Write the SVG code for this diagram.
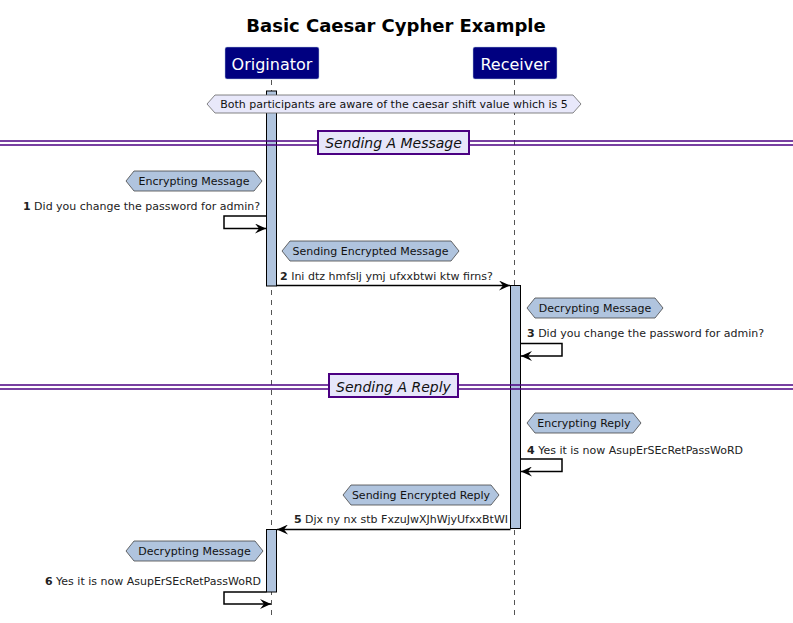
<svg xmlns="http://www.w3.org/2000/svg" width="793" height="623" viewBox="0 0 793 623">
<defs>
<style>
text{font-family:"DejaVu Sans","Liberation Sans",sans-serif;}
.title{font-size:18px;font-weight:bold;fill:#000;text-anchor:middle;}
.part rect{fill:#000080;stroke:#B0C4DE;stroke-width:0.5;}
.part text{fill:#fff;font-size:16px;text-anchor:middle;}
.life{stroke:#555;stroke-width:1;stroke-dasharray:5,5;fill:none;}
.act{fill:#B0C4DE;stroke:#000;stroke-width:1;}
.hex{fill:#B0C4DE;stroke:#444;stroke-width:0.8;}
.hex0{fill:#E8E8FA;stroke:#666;stroke-width:0.8;}
.nt{font-size:11px;fill:#111;text-anchor:middle;}
.msg{font-size:11px;fill:#222;}
.msg .n{font-weight:bold;}
.arr{stroke:#000;stroke-width:1.5;fill:none;marker-end:url(#ah);}
.dl{stroke:#4B0082;stroke-width:1.5;}
.db{fill:#E6E6FA;stroke:#4B0082;stroke-width:2;}
.dt{font-size:14px;font-style:italic;fill:#111;text-anchor:middle;}
</style>
<marker id="ah" viewBox="0 0 11 10" refX="11" refY="5" markerWidth="11" markerHeight="10" markerUnits="userSpaceOnUse" orient="auto">
<path d="M0,0 L11,5 L0,10 L4,5 Z" fill="#000"/>
</marker>
</defs>
<rect width="793" height="623" fill="#fff"/>
<text class="title" x="396" y="32">Basic Caesar Cypher Example</text>

<g id="lifelines">
<line class="life" x1="271.5" y1="80" x2="271.5" y2="616"/>
<line class="life" x1="514.5" y1="80" x2="514.5" y2="616"/>
</g>

<g id="originator" class="part">
<rect x="225" y="47" width="94" height="32" rx="2"/>
<text x="272" y="70">Originator</text>
</g>
<g id="receiver" class="part">
<rect x="473" y="47" width="84" height="32" rx="2"/>
<text x="515" y="70">Receiver</text>
</g>

<g id="activations">
<rect class="act" x="266.5" y="91" width="10" height="195"/>
<rect class="act" x="510.5" y="285.5" width="10" height="243"/>
<rect class="act" x="266.5" y="529.5" width="10" height="62.5"/>
</g>

<g id="note-shift">
<polygon class="hex0" points="215,95 573,95 581,104 573,113 215,113 207,104"/>
<text class="nt" x="394" y="108">Both participants are aware of the caesar shift value which is 5</text>
</g>

<g id="divider-message">
<line class="dl" x1="0" y1="141" x2="793" y2="141"/>
<line class="dl" x1="0" y1="145" x2="793" y2="145"/>
<rect class="db" x="318" y="131" width="151" height="23"/>
<text class="dt" x="393.5" y="148">Sending A Message</text>
</g>

<g id="note-encrypting-message">
<polygon class="hex" points="134,171 254,171 262,181 254,191 134,191 126,181"/>
<text class="nt" x="194" y="185">Encrypting Message</text>
</g>

<g id="note-sending-encrypted-message">
<polygon class="hex" points="290,241 451,241 459,251 451,261 290,261 282,251"/>
<text class="nt" x="370.5" y="255">Sending Encrypted Message</text>
</g>

<g id="note-decrypting-message-r">
<polygon class="hex" points="535,298 655,298 663,308 655,318 535,318 527,308"/>
<text class="nt" x="595" y="312">Decrypting Message</text>
</g>

<g id="divider-reply">
<line class="dl" x1="0" y1="385" x2="793" y2="385"/>
<line class="dl" x1="0" y1="389" x2="793" y2="389"/>
<rect class="db" x="329" y="374" width="129" height="23"/>
<text class="dt" x="393.5" y="392">Sending A Reply</text>
</g>

<g id="note-encrypting-reply">
<polygon class="hex" points="535,413 633,413 641,423 633,433 535,433 527,423"/>
<text class="nt" x="584" y="427">Encrypting Reply</text>
</g>

<g id="note-sending-encrypted-reply">
<polygon class="hex" points="351,485 491,485 499,495 491,505 351,505 343,495"/>
<text class="nt" x="421" y="499">Sending Encrypted Reply</text>
</g>

<g id="note-decrypting-message-o">
<polygon class="hex" points="134,541 255,541 263,551 255,561 134,561 126,551"/>
<text class="nt" x="194.5" y="555">Decrypting Message</text>
</g>

<g id="connectors">
<path class="arr" d="M266.5,216 H224 V228.5 H266"/>
<path class="arr" d="M276.5,285.5 H510"/>
<path class="arr" d="M520.5,343.5 H562 V356 H521"/>
<path class="arr" d="M520.5,459 H562 V471.5 H521"/>
<path class="arr" d="M510.5,529.5 H277"/>
<path class="arr" d="M266.5,592 H224 V604 H271"/>
</g>

<g id="labels">
<text class="msg" x="260" y="210" text-anchor="end"><tspan class="n">1</tspan> Did you change the password for admin?</text>
<text class="msg" x="280" y="280"><tspan class="n">2</tspan> Ini dtz hmfslj ymj ufxxbtwi ktw firns?</text>
<text class="msg" x="527" y="337"><tspan class="n">3</tspan> Did you change the password for admin?</text>
<text class="msg" x="527" y="454"><tspan class="n">4</tspan> Yes it is now AsupErSEcRetPassWoRD</text>
<text class="msg" x="508" y="523" text-anchor="end"><tspan class="n">5</tspan> Djx ny nx stb FxzuJwXJhWjyUfxxBtWI</text>
<text class="msg" x="261" y="585" text-anchor="end"><tspan class="n">6</tspan> Yes it is now AsupErSEcRetPassWoRD</text>
</g>
</svg>
